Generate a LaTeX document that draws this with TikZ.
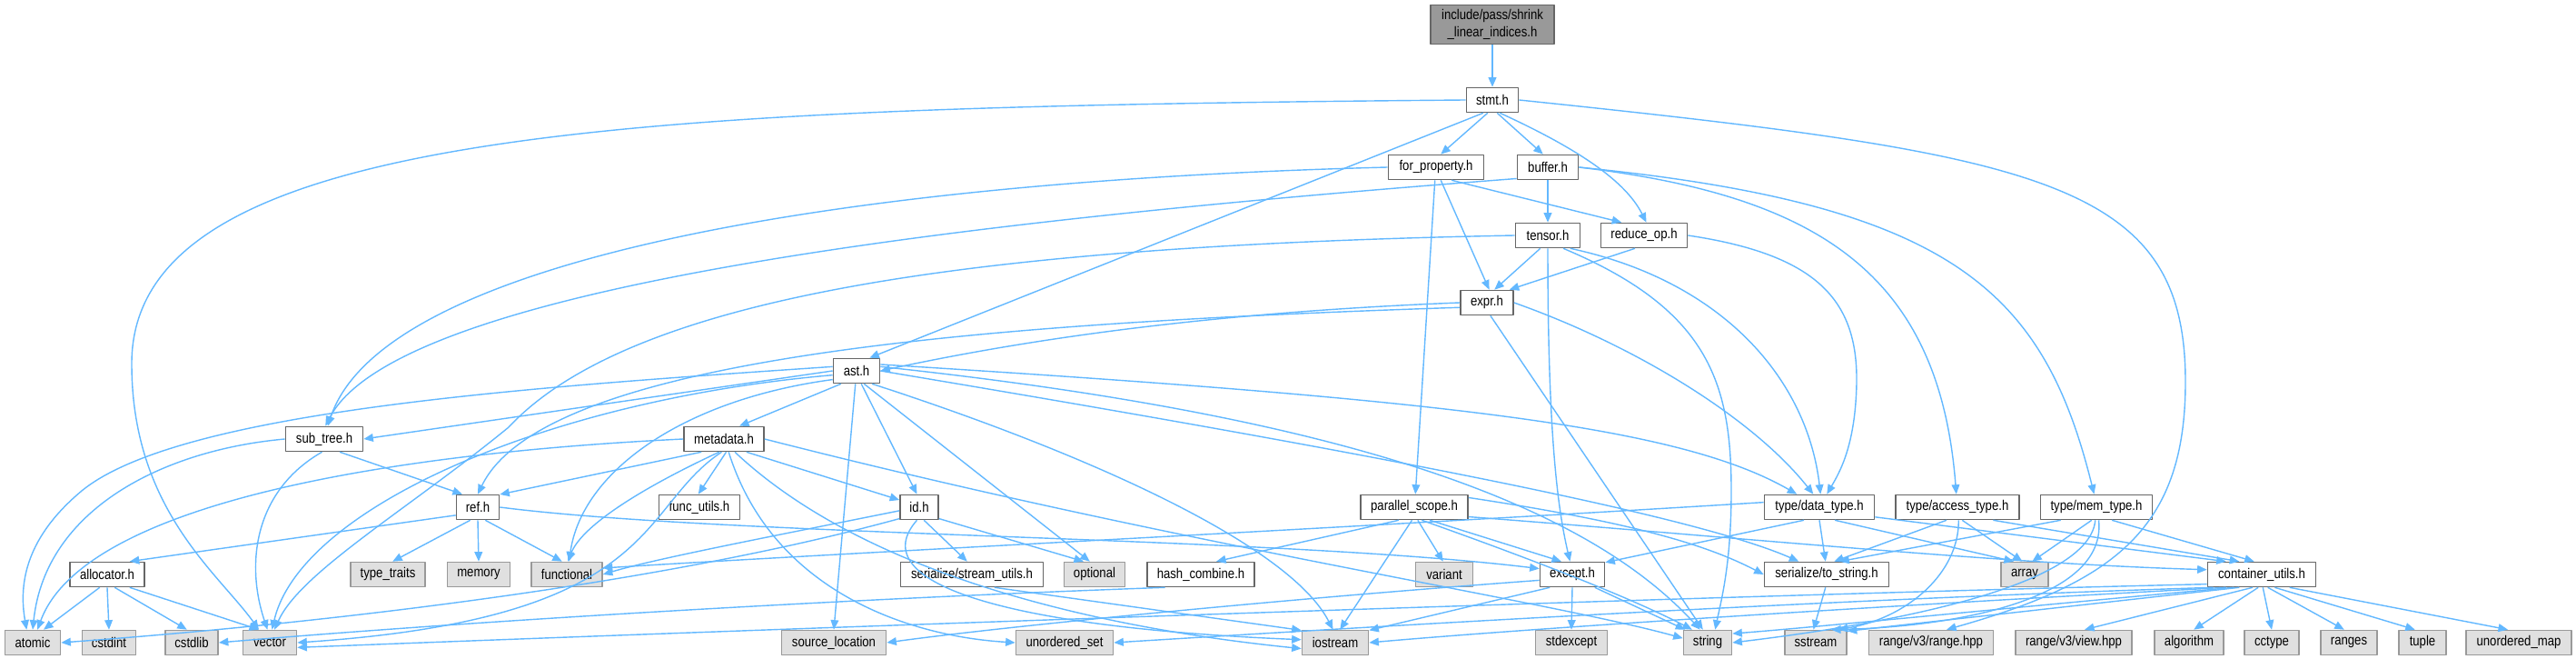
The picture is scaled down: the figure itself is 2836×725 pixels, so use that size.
\documentclass[tikz,border=0pt]{standalone}
\usepackage{fontspec}
\usetikzlibrary{arrows.meta}
\newfontfamily\dotfont{Liberation Sans}[FakeStretch=0.85]
\definecolor{incblue}{HTML}{63B8FF}
\definecolor{hdrline}{HTML}{666666}
\definecolor{sysline}{HTML}{999999}
\definecolor{sysfill}{HTML}{E0E0E0}
\tikzset{
  hdr/.style={draw=hdrline,fill=white,line width=0.45pt,minimum height=0.27cm,inner sep=1pt,
    font=\dotfont\fontsize{4.4}{5.2}\selectfont},
  syshdr/.style={hdr,draw=sysline,fill=sysfill},
  tophdr/.style={hdr,fill=sysline,align=center},
  incl/.style={draw=incblue,line width=0.4pt,-{Triangle[length=3pt,width=2.5pt]}}
}
\begin{document}
\begin{tikzpicture}[x=0.01cm,y=-0.01cm,line join=round]
  \useasboundingbox (0,0) rectangle (2836,725);
  \node[tophdr,minimum width=1.36cm,minimum height=0.43cm] (top) at (1643,27) {include/pass/shrink\\\_linear\_indices.h};
  \node[hdr,minimum width=0.57cm] (stmt) at (1643,110) {stmt.h};
  \node[hdr,minimum width=1.05cm] (forprop) at (1581,184) {for\_property.h};
  \node[hdr,minimum width=0.67cm] (buffer) at (1704,184) {buffer.h};
  \node[hdr,minimum width=0.71cm] (tensor) at (1704,259) {tensor.h};
  \node[hdr,minimum width=0.95cm] (reduceop) at (1810,259) {reduce\_op.h};
  \node[hdr,minimum width=0.58cm] (expr) at (1637,333) {expr.h};
  \node[hdr,minimum width=0.51cm] (ast) at (943,408) {ast.h};
  \node[hdr,minimum width=0.85cm] (subtree) at (357,483) {sub\_tree.h};
  \node[hdr,minimum width=0.88cm] (metadata) at (797,483) {metadata.h};
  \node[hdr,minimum width=0.47cm] (ref) at (526,558) {ref.h};
  \node[hdr,minimum width=0.89cm] (funcutils) at (770,558) {func\_utils.h};
  \node[hdr,minimum width=0.42cm] (id) at (1012,558) {id.h};
  \node[hdr,minimum width=1.18cm] (parscope) at (1557,558) {parallel\_scope.h};
  \node[hdr,minimum width=1.21cm] (datatype) at (2003,558) {type/data\_type.h};
  \node[hdr,minimum width=1.36cm] (accesstype) at (2155,558) {type/access\_type.h};
  \node[hdr,minimum width=1.23cm] (memtype) at (2308,558) {type/mem\_type.h};
  \node[hdr,minimum width=0.82cm] (allocator) at (118,632) {allocator.h};
  \node[syshdr,minimum width=0.82cm] (typetraits) at (427,632) {type\_traits};
  \node[syshdr,minimum width=0.69cm] (memory) at (527,632) {memory};
  \node[syshdr,minimum width=0.78cm] (functional) at (624,632) {functional};
  \node[hdr,minimum width=1.57cm] (streamutils) at (1070,632) {serialize/stream\_utils.h};
  \node[syshdr,minimum width=0.67cm] (optional) at (1205,632) {optional};
  \node[hdr,minimum width=1.18cm] (hashcombine) at (1322,632) {hash\_combine.h};
  \node[syshdr,minimum width=0.63cm] (variant) at (1590,632) {variant};
  \node[hdr,minimum width=0.71cm] (except) at (1731,632) {except.h};
  \node[hdr,minimum width=1.37cm] (tostring) at (2011,632) {serialize/to\_string.h};
  \node[syshdr,minimum width=0.52cm] (array) at (2229,632) {array};
  \node[hdr,minimum width=1.19cm] (containerutils) at (2490,632) {container\_utils.h};
  \node[syshdr,minimum width=0.61cm] (atomic) at (36,707) {atomic};
  \node[syshdr,minimum width=0.59cm] (cstdint) at (120,707) {cstdint};
  \node[syshdr,minimum width=0.58cm] (cstdlib) at (211,707) {cstdlib};
  \node[syshdr,minimum width=0.59cm] (vector) at (297,707) {vector};
  \node[syshdr,minimum width=1.15cm] (sourceloc) at (918,707) {source\_location};
  \node[syshdr,minimum width=1.07cm] (unorderedset) at (1172,707) {unordered\_set};
  \node[syshdr,minimum width=0.73cm] (iostream) at (1470,707) {iostream};
  \node[syshdr,minimum width=0.79cm] (stdexcept) at (1730,707) {stdexcept};
  \node[syshdr,minimum width=0.53cm] (string) at (1880,707) {string};
  \node[syshdr,minimum width=0.68cm] (sstream) at (1999,707) {sstream};
  \node[syshdr,minimum width=1.37cm] (rangehpp) at (2126,707) {range/v3/range.hpp};
  \node[syshdr,minimum width=1.28cm] (viewhpp) at (2283,707) {range/v3/view.hpp};
  \node[syshdr,minimum width=0.76cm] (algorithm) at (2410,707) {algorithm};
  \node[syshdr,minimum width=0.60cm] (cctype) at (2501,707) {cctype};
  \node[syshdr,minimum width=0.62cm] (ranges) at (2586,707) {ranges};
  \node[syshdr,minimum width=0.52cm] (tuple) at (2667,707) {tuple};
  \node[syshdr,minimum width=1.16cm] (unorderedmap) at (2773,707) {unordered\_map};

  \draw[incl] (top) -- (stmt);
  \draw[incl] (stmt.250) -- (forprop.70);
  \draw[incl] (stmt.290) -- (buffer.110);
  \draw[incl] (stmt.300) .. controls (1740,165) and (1790,200) .. (reduceop.80);
  \draw[incl] (stmt.235) -- (ast.45);
  \draw[incl] (stmt.west) .. controls (700,118) and (145,140) .. (145,400) .. controls (145,560) and (240,630) .. (vector.130);
  \draw[incl] (stmt.east) .. controls (2250,170) and (2406,200) .. (2406,420) .. controls (2406,580) and (2330,640) .. (rangehpp.40);

  \draw[incl] (forprop.west) .. controls (900,200) and (420,290) .. (subtree.75);
  \draw[incl] (forprop.320) -- (reduceop.150);
  \draw[incl] (forprop.290) -- (expr.80);
  \draw[incl] (forprop.265) -- (parscope.85);

  \draw[incl] (buffer.200) .. controls (1100,240) and (440,310) .. (subtree.85);
  \draw[incl] (buffer) -- (tensor);
  \draw[incl] (buffer.east) .. controls (2000,215) and (2135,300) .. (accesstype.95);
  \draw[incl] (buffer.east) .. controls (2150,225) and (2250,320) .. (memtype.100);

  \draw[incl] (tensor.240) -- (expr.60);
  \draw[incl] (tensor.330) .. controls (1900,310) and (1990,420) .. (datatype.85);
  \draw[incl] (tensor.320) .. controls (1880,340) and (1906,420) .. (1906,540) .. controls (1906,620) and (1895,660) .. (string.60);
  \draw[incl] (tensor.south) .. controls (1704,480) and (1715,560) .. (except.100);
  \draw[incl] (tensor.west) .. controls (1100,270) and (700,320) .. (560,470) .. controls (450,560) and (330,630) .. (vector.70);

  \draw[incl] (reduceop.235) -- (expr.30);
  \draw[incl] (reduceop.east) .. controls (2000,280) and (2045,330) .. (2044,420) .. controls (2043,490) and (2025,520) .. (datatype.60);

  \draw[incl] (expr.180) .. controls (1300,345) and (1100,380) .. (ast.east);
  \draw[incl] (expr.190) .. controls (1100,355) and (600,390) .. (ref.north);
  \draw[incl] (expr.east) .. controls (1800,380) and (1930,460) .. (datatype.115);
  \draw[incl] (expr.285) -- (string.110);

  \draw[incl] (ast.180) -- (subtree.east);
  \draw[incl] (ast.220) -- (metadata.40);
  \draw[incl] (ast.290) -- (id.100);
  \draw[incl] (ast.265) -- (sourceloc.north);
  \draw[incl] (ast.300) -- (optional.110);
  \draw[incl] (ast.320) .. controls (1200,500) and (1420,600) .. (iostream.100);
  \draw[incl] (ast.170) .. controls (600,425) and (200,450) .. (90,540) .. controls (30,590) and (20,640) .. (atomic.115);
  \draw[incl] (ast.190) .. controls (600,440) and (330,560) .. (vector.80);
  \draw[incl] (ast.200) .. controls (750,440) and (640,520) .. (functional.80);
  \draw[incl] (ast.10) .. controls (1500,460) and (1750,560) .. (string.120);
  \draw[incl] (ast.15) .. controls (1600,440) and (1850,470) .. (datatype.150);
  \draw[incl] (ast.0) .. controls (1400,480) and (1850,560) .. (tostring.155);

  \draw[incl] (metadata.west) .. controls (400,500) and (90,560) .. (atomic.70);
  \draw[incl] (metadata.210) -- (ref.30);
  \draw[incl] (metadata.250) .. controls (700,540) and (640,580) .. (functional.85);
  \draw[incl] (metadata.260) .. controls (700,560) and (730,680) .. (vector.east);
  \draw[incl] (metadata.280) -- (funcutils.95);
  \draw[incl] (metadata.330) -- (id.160);
  \draw[incl] (metadata.290) .. controls (850,650) and (1000,700) .. (unorderedset.west);
  \draw[incl] (metadata.310) .. controls (950,630) and (1200,690) .. (iostream.190);
  \draw[incl] (metadata.east) .. controls (1300,600) and (1700,660) .. (string.170);

  \draw[incl] (subtree.west) .. controls (180,495) and (50,560) .. (atomic.90);
  \draw[incl] (subtree.260) .. controls (280,540) and (270,620) .. (vector.100);
  \draw[incl] (subtree.320) -- (ref.140);

  \draw[incl] (ref.200) -- (allocator.30);
  \draw[incl] (ref.240) -- (typetraits.70);
  \draw[incl] (ref.270) -- (memory.90);
  \draw[incl] (ref.300) -- (functional.110);
  \draw[incl] (ref.east) .. controls (800,590) and (1400,590) .. (except.170);

  \draw[incl] (allocator.240) -- (atomic.50);
  \draw[incl] (allocator.270) -- (cstdint.90);
  \draw[incl] (allocator.300) -- (cstdlib.110);
  \draw[incl] (allocator.330) -- (vector.130);

  \draw[incl] (id.190) .. controls (850,590) and (720,615) .. (functional.east);
  \draw[incl] (id.210) .. controls (700,650) and (300,690) .. (atomic.east);
  \draw[incl] (id.290) -- (streamutils.110);
  \draw[incl] (id.330) -- (optional.130);
  \draw[incl] (id.260) .. controls (950,640) and (1100,690) .. (iostream.175);
  \draw[incl] (streamutils.330) -- (iostream.160);

  \draw[incl] (parscope.220) -- (hashcombine.40);
  \draw[incl] (parscope.260) -- (iostream.70);
  \draw[incl] (parscope.285) -- (variant.95);
  \draw[incl] (parscope.320) -- (except.130);
  \draw[incl] (parscope.300) .. controls (1700,620) and (1800,660) .. (string.140);
  \draw[incl] (parscope.10) .. controls (1800,575) and (1880,600) .. (tostring.west);
  \draw[incl] (parscope.350) .. controls (1900,590) and (2200,620) .. (containerutils.175);
  \draw[incl] (hashcombine.200) .. controls (900,660) and (500,685) .. (cstdlib.east);

  \draw[incl] (except.south) -- (stdexcept.north);
  \draw[incl] (except.330) -- (string.150);
  \draw[incl] (except.190) .. controls (1400,660) and (1100,690) .. (sourceloc.east);
  \draw[incl] (except.210) -- (iostream.20);

  \draw[incl] (datatype.175) .. controls (1500,580) and (900,610) .. (functional.10);
  \draw[incl] (datatype.220) -- (except.20);
  \draw[incl] (datatype.270) -- (tostring.95);
  \draw[incl] (datatype.320) -- (array.130);
  \draw[incl] (datatype.350) -- (containerutils.160);

  \draw[incl] (accesstype.230) -- (tostring.60);
  \draw[incl] (accesstype.290) -- (array.100);
  \draw[incl] (accesstype.340) -- (containerutils.150);
  \draw[incl] (accesstype.275) .. controls (2157,630) and (2100,680) .. (sstream.30);
  \draw[incl] (memtype.200) -- (tostring.45);
  \draw[incl] (memtype.250) -- (array.60);
  \draw[incl] (memtype.320) -- (containerutils.120);
  \draw[incl] (memtype.265) .. controls (2300,650) and (2050,690) .. (string.east);
  \draw[incl] (memtype.280) .. controls (2320,660) and (2150,690) .. (sstream.40);

  \draw[incl] (tostring.265) -- (sstream.100);

  \draw[incl] (containerutils.190) .. controls (1900,655) and (900,690) .. (vector.350);
  \draw[incl] (containerutils.195) .. controls (2000,660) and (1500,690) .. (unorderedset.east);
  \draw[incl] (containerutils.200) .. controls (2100,665) and (1700,690) .. (iostream.east);
  \draw[incl] (containerutils.205) .. controls (2250,665) and (2000,690) .. (string.20);
  \draw[incl] (containerutils.210) -- (sstream.20);
  \draw[incl] (containerutils.235) -- (viewhpp.50);
  \draw[incl] (containerutils.255) -- (algorithm.70);
  \draw[incl] (containerutils.275) -- (cctype.north);
  \draw[incl] (containerutils.295) -- (ranges.110);
  \draw[incl] (containerutils.315) -- (tuple.120);
  \draw[incl] (containerutils.335) -- (unorderedmap.130);
\end{tikzpicture}
\end{document}
